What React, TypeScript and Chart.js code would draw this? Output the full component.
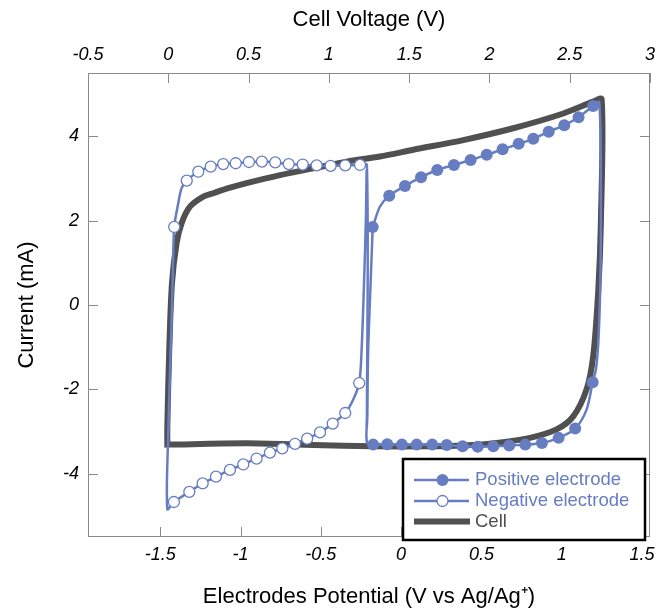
import React, { useEffect, useRef } from 'react';
import { Chart, registerables } from 'chart.js';

Chart.register(...registerables);

// ---------- data ----------
const bottomTicks = [-1.5, -1, -0.5, 0, 0.5, 1, 1.5];
const topTicks = [-0.5, 0, 0.5, 1, 1.5, 2, 2.5, 3];
const yTicks = [-4, -2, 0, 2, 4];

// Negative electrode (electrode potential axis)
const negPathX = [-0.213, -0.213, -0.256, -0.348, -0.439, -0.526, -0.613, -0.700, -0.784, -0.867, -0.948, -1.030, -1.108, -1.186, -1.263, -1.335, -1.367, -1.388, -1.413, -1.423, -1.435, -1.450, -1.456, -1.415, -1.319, -1.236, -1.153, -1.066, -0.983, -0.900, -0.817, -0.740, -0.661, -0.585, -0.505, -0.426, -0.348, -0.298, -0.261, -0.246, -0.231, -0.219, -0.215];
const negPathY = [-2.88, 3.32, 3.32, 3.31, 3.30, 3.31, 3.33, 3.34, 3.38, 3.40, 3.39, 3.36, 3.34, 3.28, 3.16, 2.95, 2.77, 2.41, 1.85, 0.53, -1.06, -3.02, -4.84, -4.67, -4.43, -4.23, -4.07, -3.91, -3.78, -3.64, -3.50, -3.40, -3.29, -3.17, -3.02, -2.81, -2.56, -2.24, -1.85, -1.06, 0.52, 2.10, 3.20];
const negMarkX = [-0.256, -0.348, -0.439, -0.526, -0.613, -0.700, -0.784, -0.867, -0.948, -1.030, -1.108, -1.186, -1.263, -1.335, -1.413, -1.415, -1.319, -1.236, -1.153, -1.066, -0.983, -0.900, -0.817, -0.740, -0.661, -0.585, -0.505, -0.426, -0.348, -0.261];
const negMarkY = [3.32, 3.31, 3.30, 3.31, 3.33, 3.34, 3.38, 3.40, 3.39, 3.36, 3.34, 3.28, 3.16, 2.95, 1.85, -4.67, -4.43, -4.23, -4.07, -3.91, -3.78, -3.64, -3.50, -3.40, -3.29, -3.17, -3.02, -2.81, -2.56, -1.85];

// Positive electrode (electrode potential axis)
const posPathX = [-0.177, -0.132, -0.074, 0.024, 0.124, 0.225, 0.329, 0.433, 0.533, 0.632, 0.732, 0.823, 0.919, 1.016, 1.105, 1.196, 1.234, 1.244, 1.241, 1.229, 1.213, 1.193, 1.155, 1.084, 0.981, 0.877, 0.773, 0.673, 0.574, 0.477, 0.383, 0.284, 0.194, 0.097, 0.005, -0.086, -0.174, -0.213, -0.211, -0.205, -0.190, -0.177];
const posPathY = [1.85, 2.33, 2.59, 2.82, 3.03, 3.20, 3.32, 3.44, 3.56, 3.69, 3.82, 3.94, 4.11, 4.26, 4.45, 4.72, 4.81, 2.49, 0.60, -0.82, -1.53, -1.83, -2.48, -2.93, -3.15, -3.27, -3.31, -3.33, -3.35, -3.36, -3.35, -3.32, -3.31, -3.31, -3.31, -3.30, -3.31, -3.26, -2.64, -1.06, 0.52, 1.85];
const posMarkX = [-0.177, -0.074, 0.024, 0.124, 0.225, 0.329, 0.433, 0.533, 0.632, 0.732, 0.823, 0.919, 1.016, 1.105, 1.196, 1.193, 1.084, 0.981, 0.877, 0.773, 0.673, 0.574, 0.477, 0.383, 0.284, 0.194, 0.097, 0.005, -0.086, -0.174];
const posMarkY = [1.85, 2.59, 2.82, 3.03, 3.20, 3.32, 3.44, 3.56, 3.69, 3.82, 3.94, 4.11, 4.26, 4.45, 4.72, -1.83, -2.93, -3.15, -3.27, -3.31, -3.33, -3.35, -3.36, -3.35, -3.32, -3.31, -3.31, -3.31, -3.30, -3.31];

// Cell (cell voltage axis)
const cellX = [-0.006, -0.006, 0.006, 0.023, 0.052, 0.083, 0.135, 0.218, 0.280, 0.374, 0.488, 0.696, 0.903, 1.111, 1.318, 1.526, 1.837, 2.148, 2.460, 2.646, 2.699, 2.694, 2.678, 2.646, 2.605, 2.522, 2.418, 2.252, 2.045, 1.837, 1.630, 1.276, 0.903, 0.488, -0.006];
const cellY = [-3.31, -2.88, -1.06, 0.52, 1.47, 1.94, 2.33, 2.57, 2.65, 2.77, 2.89, 3.08, 3.24, 3.40, 3.52, 3.68, 3.91, 4.19, 4.54, 4.82, 4.88, 1.94, 0.36, -1.22, -2.00, -2.64, -2.95, -3.15, -3.27, -3.33, -3.35, -3.35, -3.32, -3.28, -3.31];

const legendLabels = ['Positive electrode', 'Negative electrode', 'Cell'];

// ---------- styles ----------
const BLUE = '#677dc2';
const CELL = '#505050';
const AXIS = '#8a8a8a';
const FONT = "'Liberation Sans', Arial, Helvetica, sans-serif";

const pts = (xs: number[], ys: number[]) => xs.map((x, i) => ({ x, y: ys[i] }));

const innerTicks = {
  id: 'innerTicks',
  beforeDatasetsDraw(chart: any) {
    const { ctx, chartArea: a, scales } = chart;
    ctx.save();
    ctx.strokeStyle = AXIS;
    ctx.lineWidth = 1;
    ctx.strokeRect(a.left + 0.5, a.top + 0.5, a.right - a.left - 1, a.bottom - a.top - 1);
    const L = 10;
    ctx.beginPath();
    scales.x.ticks.forEach((t: any) => {
      const p = Math.round(scales.x.getPixelForValue(t.value)) + 0.5;
      ctx.moveTo(p, a.bottom);
      ctx.lineTo(p, a.bottom - L);
    });
    scales.x2.ticks.forEach((t: any) => {
      const p = Math.round(scales.x2.getPixelForValue(t.value)) + 0.5;
      ctx.moveTo(p, a.top);
      ctx.lineTo(p, a.top + L);
    });
    scales.y.ticks.forEach((t: any) => {
      const p = Math.round(scales.y.getPixelForValue(t.value)) + 0.5;
      ctx.moveTo(a.left, p);
      ctx.lineTo(a.left + L, p);
      ctx.moveTo(a.right, p);
      ctx.lineTo(a.right - L, p);
    });
    ctx.stroke();
    ctx.restore();
  },
};

const boxLegend = {
  id: 'boxLegend',
  afterDraw(chart: any) {
    const { ctx, chartArea: a } = chart;
    const x0 = a.right - 247;
    const y0 = a.bottom - 78;
    const w = 242;
    const h = 81;
    ctx.save();
    ctx.fillStyle = '#fff';
    ctx.fillRect(x0, y0, w, h);
    ctx.strokeStyle = '#000';
    ctx.lineWidth = 2.5;
    ctx.strokeRect(x0, y0, w, h);
    const rows = [y0 + 21, y0 + 42, y0 + 62.5];
    const lx1 = x0 + 11;
    const lx2 = x0 + 66;
    const mx = x0 + 39.5;
    ctx.font = `18.5px ${FONT}`;
    ctx.textBaseline = 'middle';
    ctx.textAlign = 'left';
    // positive
    ctx.strokeStyle = BLUE;
    ctx.lineWidth = 2.5;
    ctx.beginPath();
    ctx.moveTo(lx1, rows[0]);
    ctx.lineTo(lx2, rows[0]);
    ctx.stroke();
    ctx.fillStyle = BLUE;
    ctx.beginPath();
    ctx.arc(mx, rows[0], 6, 0, Math.PI * 2);
    ctx.fill();
    ctx.fillText(legendLabels[0], x0 + 72, rows[0]);
    // negative
    ctx.beginPath();
    ctx.moveTo(lx1, rows[1]);
    ctx.lineTo(lx2, rows[1]);
    ctx.stroke();
    ctx.fillStyle = '#fff';
    ctx.lineWidth = 1.3;
    ctx.beginPath();
    ctx.arc(mx, rows[1], 5.5, 0, Math.PI * 2);
    ctx.fill();
    ctx.stroke();
    ctx.fillStyle = BLUE;
    ctx.fillText(legendLabels[1], x0 + 72, rows[1]);
    // cell
    ctx.strokeStyle = CELL;
    ctx.lineWidth = 6;
    ctx.beginPath();
    ctx.moveTo(lx1, rows[2]);
    ctx.lineTo(lx2 + 1, rows[2]);
    ctx.stroke();
    ctx.fillStyle = CELL;
    ctx.fillText(legendLabels[2], x0 + 72, rows[2]);
    ctx.restore();
  },
};

const tickFont = { family: FONT, size: 18, style: 'italic' as const };
const titleFont = { family: FONT, size: 22 };

export default function App() {
  const ref = useRef<HTMLCanvasElement>(null);
  useEffect(() => {
    Chart.defaults.font.family = FONT;
    const chart = new Chart(ref.current as HTMLCanvasElement, {
      type: 'scatter',
      data: {
        datasets: [
          {
            label: 'pos-markers',
            data: pts(posMarkX, posMarkY),
            xAxisID: 'x',
            yAxisID: 'y',
            showLine: false,
            pointRadius: 6,
            pointBackgroundColor: BLUE,
            pointBorderColor: BLUE,
            pointBorderWidth: 0,
          },
          {
            label: 'neg-markers',
            data: pts(negMarkX, negMarkY),
            xAxisID: 'x',
            yAxisID: 'y',
            showLine: false,
            pointRadius: 5.5,
            pointBackgroundColor: '#fff',
            pointBorderColor: BLUE,
            pointBorderWidth: 1.3,
          },
          {
            label: 'Positive electrode',
            data: pts(posPathX, posPathY),
            xAxisID: 'x',
            yAxisID: 'y',
            showLine: true,
            borderColor: BLUE,
            borderWidth: 2.5,
            pointRadius: 0,
            tension: 0.3,
          },
          {
            label: 'Negative electrode',
            data: pts(negPathX, negPathY),
            xAxisID: 'x',
            yAxisID: 'y',
            showLine: true,
            borderColor: BLUE,
            borderWidth: 2.5,
            pointRadius: 0,
            tension: 0.3,
          },
          {
            label: 'Cell',
            data: pts(cellX, cellY),
            xAxisID: 'x2',
            yAxisID: 'y',
            showLine: true,
            borderColor: CELL,
            borderWidth: 6,
            pointRadius: 0,
            tension: 0.3,
            borderJoinStyle: 'miter',
            borderCapStyle: 'square',
          },
        ],
      },
      options: {
        animation: false,
        responsive: false,
        events: [],
        layout: { padding: 0 },
        plugins: {
          legend: { display: false },
          tooltip: { enabled: false },
        },
        scales: {
          x: {
            type: 'linear',
            position: 'bottom',
            min: -1.95,
            max: 1.55,
            grid: { display: false, drawTicks: false },
            border: { display: false },
            ticks: { font: tickFont, color: '#000', padding: 7, maxRotation: 0, callback: (v: any) => String(v) },
            title: {
              display: true,
              text: 'Electrodes Potential (V vs Ag/Ag\u207A)',
              font: titleFont,
              color: '#000',
              padding: { top: 0, bottom: 0 },
            },
            afterBuildTicks: (s: any) => {
              s.ticks = bottomTicks.map((v) => ({ value: v }));
            },
            afterFit: (s: any) => {
              s.height = 73;
            },
          },
          x2: {
            type: 'linear',
            position: 'top',
            min: -0.5,
            max: 3,
            grid: { display: false, drawTicks: false },
            border: { display: false },
            ticks: { font: tickFont, color: '#000', padding: 7, maxRotation: 0, callback: (v: any) => String(v) },
            title: {
              display: true,
              text: 'Cell Voltage (V)',
              font: titleFont,
              color: '#000',
              padding: { top: 7, bottom: 0 },
            },
            afterBuildTicks: (s: any) => {
              s.ticks = topTicks.map((v) => ({ value: v }));
            },
            afterFit: (s: any) => {
              s.height = 73;
            },
          },
          y: {
            type: 'linear',
            position: 'left',
            min: -5.5,
            max: 5.5,
            grid: { display: false, drawTicks: false },
            border: { display: false },
            ticks: { font: tickFont, color: '#000', padding: 9, callback: (v: any) => String(v) },
            title: {
              display: true,
              text: 'Current (mA)',
              font: titleFont,
              color: '#000',
              padding: { top: 13.5, bottom: 0 },
            },
            afterBuildTicks: (s: any) => {
              s.ticks = yTicks.map((v) => ({ value: v }));
            },
            afterFit: (s: any) => {
              s.width = 88;
            },
          },
          y2: {
            type: 'linear',
            position: 'right',
            min: -5.5,
            max: 5.5,
            grid: { display: false, drawTicks: false },
            border: { display: false },
            ticks: { display: false },
            afterFit: (s: any) => {
              s.width = 21;
            },
          },
        },
      } as any,
      plugins: [innerTicks, boxLegend],
    });
    return () => chart.destroy();
  }, []);
  return (
    <div style={{ position: 'absolute', left: 0, top: 0, width: 671, height: 610, background: '#fff' }}>
      <canvas ref={ref} width={671} height={610} style={{ display: 'block', width: 671, height: 610 }} />
    </div>
  );
}
